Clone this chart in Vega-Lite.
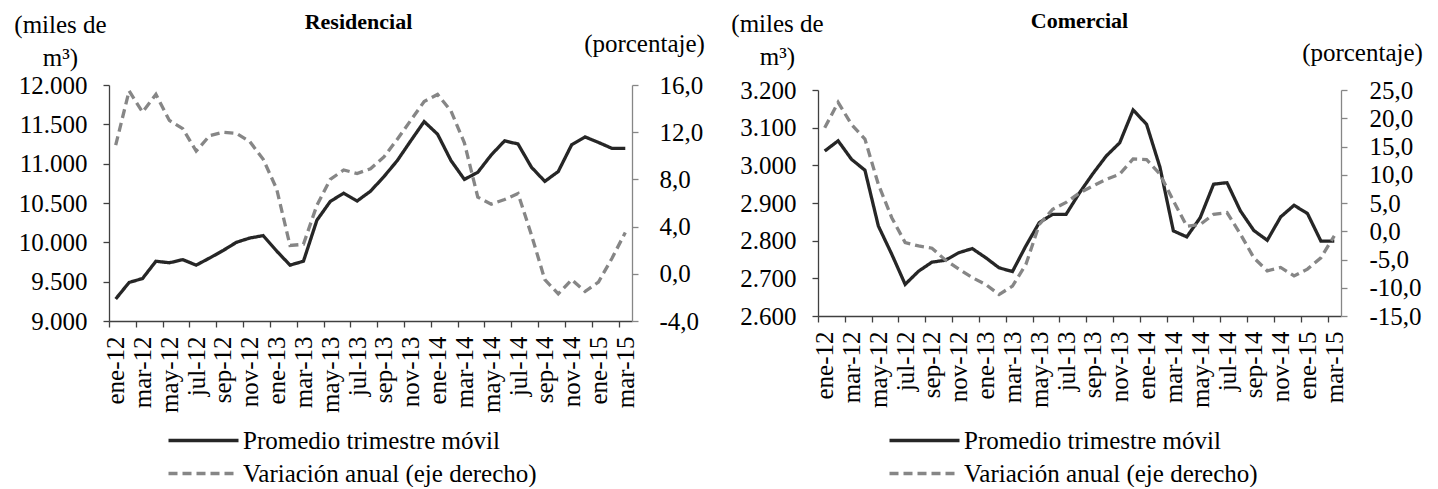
{
  "$schema": "https://vega.github.io/schema/vega-lite/v6.json",
  "padding": {"left": 13, "top": 10, "right": 0, "bottom": 0},
  "background": "white",
  "config": {
    "locale": {"number": {"decimal": ",", "thousands": ".", "grouping": [3], "currency": ["", ""], "minus": "-"}},
    "font": "Liberation Serif",
    "view": {"stroke": null},
    "style": {"guide-label": {"font": "Liberation Serif", "fontSize": 25, "fill": "#000000"}, "guide-title": {"font": "Liberation Serif", "fontSize": 25, "fill": "#000000"}},
    "axis": {"labelFont": "Liberation Serif", "labelFontSize": 25, "labelColor": "#000000", "titleFont": "Liberation Serif", "titleFontSize": 25, "titleFontWeight": "normal", "titleColor": "#000000", "grid": false, "tickSize": 6, "domainWidth": 1.3, "tickWidth": 1.3},
    "legend": {"labelFont": "Liberation Serif", "labelFontSize": 25, "labelColor": "#000000", "symbolType": "M-3.5,0H3.5", "symbolSize": 400, "symbolStrokeWidth": 3.3, "labelOffset": 27, "rowPadding": 7, "padding": 0, "labelLimit": 600},
    "title": {"font": "Liberation Serif", "fontSize": 22, "fontWeight": "bold", "color": "#000000"}
  },
  "datasets": {
    "res": [
      {"mes": "ene-12", "prom": 9280, "var": 10.9},
      {"mes": "feb-12", "prom": 9490, "var": 15.5},
      {"mes": "mar-12", "prom": 9540, "var": 13.7},
      {"mes": "abr-12", "prom": 9760, "var": 15.2},
      {"mes": "may-12", "prom": 9740, "var": 13.0},
      {"mes": "jun-12", "prom": 9780, "var": 12.3},
      {"mes": "jul-12", "prom": 9710, "var": 10.4},
      {"mes": "ago-12", "prom": 9800, "var": 11.7},
      {"mes": "sep-12", "prom": 9895, "var": 12.0},
      {"mes": "oct-12", "prom": 10000, "var": 11.9},
      {"mes": "nov-12", "prom": 10055, "var": 11.2},
      {"mes": "dic-12", "prom": 10085, "var": 9.7},
      {"mes": "ene-13", "prom": 9890, "var": 7.2},
      {"mes": "feb-13", "prom": 9710, "var": 2.4},
      {"mes": "mar-13", "prom": 9760, "var": 2.5},
      {"mes": "abr-13", "prom": 10280, "var": 5.8},
      {"mes": "may-13", "prom": 10520, "var": 8.0},
      {"mes": "jun-13", "prom": 10625, "var": 8.8},
      {"mes": "jul-13", "prom": 10525, "var": 8.5},
      {"mes": "ago-13", "prom": 10650, "var": 8.9},
      {"mes": "sep-13", "prom": 10835, "var": 9.9},
      {"mes": "oct-13", "prom": 11040, "var": 11.4},
      {"mes": "nov-13", "prom": 11290, "var": 13.0},
      {"mes": "dic-13", "prom": 11535, "var": 14.6},
      {"mes": "ene-14", "prom": 11375, "var": 15.2},
      {"mes": "feb-14", "prom": 11040, "var": 13.8},
      {"mes": "mar-14", "prom": 10800, "var": 11.1},
      {"mes": "abr-14", "prom": 10890, "var": 6.5},
      {"mes": "may-14", "prom": 11110, "var": 5.9},
      {"mes": "jun-14", "prom": 11290, "var": 6.3},
      {"mes": "jul-14", "prom": 11250, "var": 6.8},
      {"mes": "ago-14", "prom": 10955, "var": 3.3},
      {"mes": "sep-14", "prom": 10775, "var": -0.5},
      {"mes": "oct-14", "prom": 10900, "var": -1.7},
      {"mes": "nov-14", "prom": 11240, "var": -0.5},
      {"mes": "dic-14", "prom": 11340, "var": -1.5},
      {"mes": "ene-15", "prom": 11270, "var": -0.7},
      {"mes": "feb-15", "prom": 11195, "var": 1.3},
      {"mes": "mar-15", "prom": 11195, "var": 3.5}
    ],
    "com": [
      {"mes": "ene-12", "prom": 3038, "var": 18.3},
      {"mes": "feb-12", "prom": 3065, "var": 22.8},
      {"mes": "mar-12", "prom": 3016, "var": 18.9},
      {"mes": "abr-12", "prom": 2987, "var": 16.3},
      {"mes": "may-12", "prom": 2839, "var": 8.3},
      {"mes": "jun-12", "prom": 2764, "var": 2.4},
      {"mes": "jul-12", "prom": 2684, "var": -2.0},
      {"mes": "ago-12", "prom": 2719, "var": -2.6},
      {"mes": "sep-12", "prom": 2743, "var": -3.0},
      {"mes": "oct-12", "prom": 2748, "var": -5.1},
      {"mes": "nov-12", "prom": 2768, "var": -6.7},
      {"mes": "dic-12", "prom": 2779, "var": -8.2},
      {"mes": "ene-13", "prom": 2755, "var": -9.4},
      {"mes": "feb-13", "prom": 2728, "var": -11.2},
      {"mes": "mar-13", "prom": 2718, "var": -9.7},
      {"mes": "abr-13", "prom": 2786, "var": -5.9},
      {"mes": "may-13", "prom": 2848, "var": 1.2},
      {"mes": "jun-13", "prom": 2870, "var": 3.9},
      {"mes": "jul-13", "prom": 2870, "var": 5.1},
      {"mes": "ago-13", "prom": 2927, "var": 6.8},
      {"mes": "sep-13", "prom": 2978, "var": 8.0},
      {"mes": "oct-13", "prom": 3025, "var": 9.2},
      {"mes": "nov-13", "prom": 3060, "var": 10.1},
      {"mes": "dic-13", "prom": 3147, "var": 12.8},
      {"mes": "ene-14", "prom": 3109, "var": 12.7},
      {"mes": "feb-14", "prom": 2995, "var": 10.1},
      {"mes": "mar-14", "prom": 2826, "var": 5.4},
      {"mes": "abr-14", "prom": 2810, "var": 0.9},
      {"mes": "may-14", "prom": 2861, "var": 1.2},
      {"mes": "jun-14", "prom": 2950, "var": 3.0},
      {"mes": "jul-14", "prom": 2954, "var": 3.3},
      {"mes": "ago-14", "prom": 2879, "var": -0.5},
      {"mes": "sep-14", "prom": 2827, "var": -4.7},
      {"mes": "oct-14", "prom": 2801, "var": -7.0},
      {"mes": "nov-14", "prom": 2863, "var": -6.4},
      {"mes": "dic-14", "prom": 2894, "var": -7.9},
      {"mes": "ene-15", "prom": 2872, "var": -6.7},
      {"mes": "feb-15", "prom": 2799, "var": -4.7},
      {"mes": "mar-15", "prom": 2799, "var": -0.8}
    ]
  },
  "hconcat": [
    {
      "width": 523,
      "height": 236,
      "title": {"text": "Residencial", "offset": -22, "dx": -12},
      "data": {"name": "res"},
      "encoding": {
        "x": {
          "field": "mes", "type": "ordinal", "sort": null,
          "scale": {"type": "point", "padding": 0.5},
          "axis": {
            "title": null,
            "values": ["ene-12", "mar-12", "may-12", "jul-12", "sep-12", "nov-12", "ene-13", "mar-13", "may-13", "jul-13", "sep-13", "nov-13", "ene-14", "mar-14", "may-14", "jul-14", "sep-14", "nov-14", "ene-15", "mar-15"],
            "labelAngle": -90, "tickOffset": -6.7, "labelOffset": 6.7, "labelPadding": 9,
            "labelFont": "Liberation Serif", "labelFontSize": 25,
            "domainColor": "#404040", "tickColor": "#404040"
          }
        }
      },
      "layer": [
        {
          "mark": {"type": "line", "strokeWidth": 3.3},
          "encoding": {
            "y": {
              "field": "prom", "type": "quantitative",
              "scale": {"domain": [9000, 12000], "nice": false, "zero": false},
              "axis": {
                "values": [9000, 9500, 10000, 10500, 11000, 11500, 12000], "format": ",.0f",
                "labelFont": "Liberation Serif", "labelFontSize": 25,
                "title": ["(miles de", "m³)"], "titleAngle": 0, "titleAlign": "center", "titleBaseline": "top",
                "titleX": -49, "titleY": -73, "titleLineHeight": 33,
                "labelPadding": 16, "domainColor": "#404040", "tickColor": "#404040"
              }
            },
            "color": {
              "datum": "Promedio trimestre móvil",
              "scale": {"domain": ["Promedio trimestre móvil", "Variación anual (eje derecho)"], "range": ["#262626", "#868686"]},
              "legend": {"orient": "none", "legendX": 82, "legendY": 343, "title": null}
            },
            "strokeDash": {
              "datum": "Promedio trimestre móvil",
              "scale": {"domain": ["Promedio trimestre móvil", "Variación anual (eje derecho)"], "range": [[1, 0], [9, 5]]},
              "legend": {"orient": "none", "legendX": 82, "legendY": 343, "title": null}
            }
          }
        },
        {
          "mark": {"type": "line", "strokeWidth": 3.3},
          "encoding": {
            "y": {
              "field": "var", "type": "quantitative",
              "scale": {"domain": [-4, 16], "nice": false, "zero": false},
              "axis": {
                "orient": "right",
                "values": [-4, 0, 4, 8, 12, 16], "format": ".1f",
                "labelFont": "Liberation Serif", "labelFontSize": 25,
                "title": "(porcentaje)", "titleAngle": 0, "titleAlign": "center", "titleBaseline": "middle",
                "titleX": 12, "titleY": -42,
                "labelPadding": 21, "domainColor": "#868686", "tickColor": "#868686"
              }
            },
            "color": {"datum": "Variación anual (eje derecho)"},
            "strokeDash": {"datum": "Variación anual (eje derecho)"}
          }
        }
      ],
      "resolve": {"scale": {"y": "independent"}}
    },
    {
      "width": 523,
      "height": 226,
      "title": {"text": "Comercial", "offset": -22},
      "data": {"name": "com"},
      "encoding": {
        "x": {
          "field": "mes", "type": "ordinal", "sort": null,
          "scale": {"type": "point", "padding": 0.5},
          "axis": {
            "title": null,
            "values": ["ene-12", "mar-12", "may-12", "jul-12", "sep-12", "nov-12", "ene-13", "mar-13", "may-13", "jul-13", "sep-13", "nov-13", "ene-14", "mar-14", "may-14", "jul-14", "sep-14", "nov-14", "ene-15", "mar-15"],
            "labelAngle": -90, "tickOffset": -6.7, "labelOffset": 6.7, "labelPadding": 9,
            "labelFont": "Liberation Serif", "labelFontSize": 25,
            "domainColor": "#404040", "tickColor": "#404040"
          }
        }
      },
      "layer": [
        {
          "mark": {"type": "line", "strokeWidth": 3.3},
          "encoding": {
            "y": {
              "field": "prom", "type": "quantitative",
              "scale": {"domain": [2600, 3200], "nice": false, "zero": false},
              "axis": {
                "values": [2600, 2700, 2800, 2900, 3000, 3100, 3200], "format": ",.0f",
                "labelFont": "Liberation Serif", "labelFontSize": 25,
                "title": ["(miles de", "m³)"], "titleAngle": 0, "titleAlign": "center", "titleBaseline": "top",
                "titleX": -41, "titleY": -79, "titleLineHeight": 33,
                "labelPadding": 16, "domainColor": "#404040", "tickColor": "#404040"
              }
            },
            "color": {
              "datum": "Promedio trimestre móvil",
              "scale": {"domain": ["Promedio trimestre móvil", "Variación anual (eje derecho)"], "range": ["#262626", "#868686"]},
              "legend": {"orient": "none", "legendX": 94, "legendY": 338, "title": null}
            },
            "strokeDash": {
              "datum": "Promedio trimestre móvil",
              "scale": {"domain": ["Promedio trimestre móvil", "Variación anual (eje derecho)"], "range": [[1, 0], [9, 5]]},
              "legend": {"orient": "none", "legendX": 94, "legendY": 338, "title": null}
            }
          }
        },
        {
          "mark": {"type": "line", "strokeWidth": 3.3},
          "encoding": {
            "y": {
              "field": "var", "type": "quantitative",
              "scale": {"domain": [-15, 25], "nice": false, "zero": false},
              "axis": {
                "orient": "right",
                "values": [-15, -10, -5, 0, 5, 10, 15, 20, 25], "format": ".1f",
                "labelFont": "Liberation Serif", "labelFontSize": 25,
                "title": "(porcentaje)", "titleAngle": 0, "titleAlign": "center", "titleBaseline": "middle",
                "titleX": 21, "titleY": -38,
                "labelPadding": 22, "domainColor": "#868686", "tickColor": "#868686"
              }
            },
            "color": {"datum": "Variación anual (eje derecho)"},
            "strokeDash": {"datum": "Variación anual (eje derecho)"}
          }
        }
      ],
      "resolve": {"scale": {"y": "independent"}}
    }
  ],
  "spacing": 186,
  "bounds": "flush",
  "center": true,
  "resolve": {"scale": {"color": "independent", "strokeDash": "independent"}}
}
